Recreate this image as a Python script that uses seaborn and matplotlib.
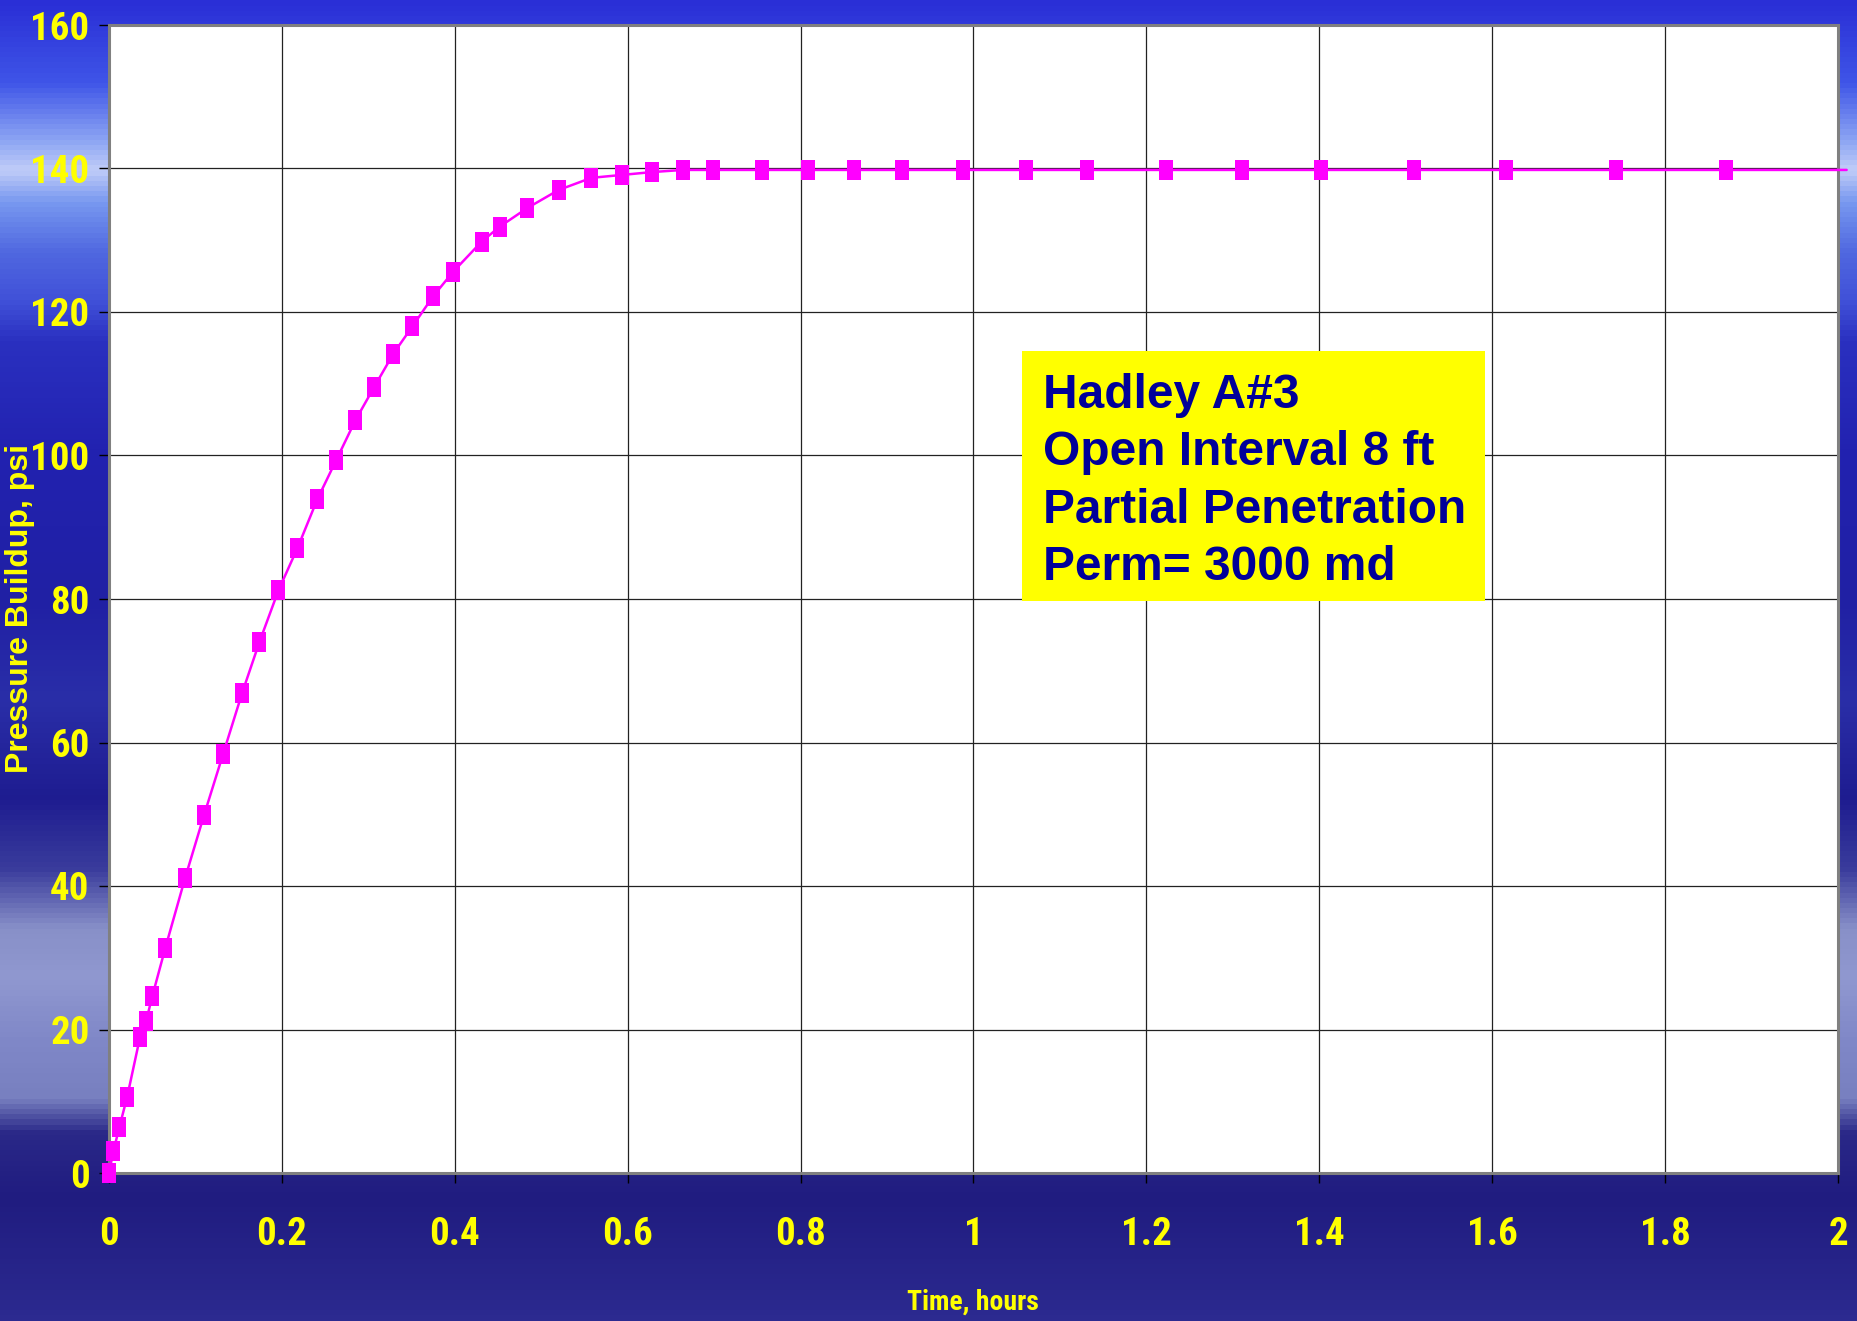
import matplotlib
matplotlib.use('Agg')
import matplotlib.pyplot as plt
import matplotlib.colors as mcolors
from matplotlib.patches import Rectangle
import numpy as np
import pandas as pd
import seaborn as sns

# tempo (h) e pressão (psi)
tempo = [0.0, 0.005, 0.012, 0.021, 0.036, 0.043, 0.050, 0.065, 0.088,
         0.110, 0.132, 0.154, 0.174, 0.196, 0.218, 0.241, 0.263, 0.285,
         0.307, 0.329, 0.351, 0.375, 0.398, 0.431, 0.452, 0.484, 0.520,
         0.558, 0.593, 0.628, 0.664, 0.699, 0.755, 0.808, 0.862, 0.917,
         0.988, 1.061, 1.131, 1.223, 1.311, 1.402, 1.510, 1.616, 1.743,
         1.870, 2.010]
pressao = [0.0, 3.0, 6.4, 10.6, 19.0, 21.2, 24.6, 31.3, 41.1,
           49.9, 58.4, 66.9, 74.0, 81.2, 87.1, 93.9, 99.4, 104.9,
           109.6, 114.2, 118.0, 122.2, 125.6, 129.8, 131.9, 134.5, 137.0,
           138.7, 139.1, 139.5, 139.8, 139.8, 139.8, 139.8, 139.8, 139.8,
           139.8, 139.8, 139.8, 139.8, 139.8, 139.8, 139.8, 139.8, 139.8,
           139.8, 139.8]

xticks = [0, 0.2, 0.4, 0.6, 0.8, 1, 1.2, 1.4, 1.6, 1.8, 2]
xticklabels = ['0', '0.2', '0.4', '0.6', '0.8', '1', '1.2', '1.4', '1.6', '1.8', '2']
yticks = [0, 20, 40, 60, 80, 100, 120, 140, 160]

info = ['Hadley A#3', 'Open Interval 8 ft', 'Partial Penetration', 'Perm= 3000 md']

W, H = 1858, 1321
AMARELO = '#ffff00'
MAGENTA = '#ff00ff'
narrow = ['Roboto Condensed', 'Liberation Sans Narrow', 'Liberation Sans', 'DejaVu Sans']

df = pd.DataFrame({'tempo': tempo, 'pressao': pressao})

sns.set_theme(style='white')
fig = plt.figure(figsize=(W / 100, H / 100), dpi=100)

# fundo degradê azul (paradas de cor)
paradas = [(0, '#2a2fd6'), (80, '#3f55e8'), (140, '#90a8f4'), (168, '#c0ccf8'),
           (200, '#7898f0'), (250, '#5068e0'), (300, '#4050d8'), (340, '#2a30c0'),
           (450, '#2222b0'), (600, '#2020a4'), (700, '#2a2ea8'), (800, '#1e1c90'),
           (870, '#3a3c9c'), (930, '#8890c8'), (980, '#9098d0'), (1040, '#8088c8'),
           (1100, '#7880c0'), (1135, '#2a2888'), (1200, '#201c80'), (1321, '#2c2a90')]
cmap = mcolors.LinearSegmentedColormap.from_list(
    'fundo', [(p / H, c) for p, c in paradas])
bg = fig.add_axes([0, 0, 1, 1], zorder=-1)
bg.imshow(np.linspace(0, 1, H).reshape(-1, 1), cmap=cmap, aspect='auto',
          extent=[0, 1, 0, 1], origin='upper')
bg.axis('off')

L, R, T, B = 109, 1838, 25, 1173
ax = fig.add_axes([L / W, 1 - B / H, (R - L) / W, (B - T) / H])
ax.set_facecolor('white')

sns.lineplot(data=df, x='tempo', y='pressao', ax=ax, color=MAGENTA, lw=1.8,
             marker=[(-0.36, -0.5), (0.36, -0.5), (0.36, 0.5), (-0.36, 0.5), (-0.36, -0.5)],
             markersize=14, markeredgewidth=0, markerfacecolor=MAGENTA,
             markevery=slice(0, len(tempo) - 1), clip_on=False, zorder=4,
             sort=False, estimator=None)

ax.set_xlim(0, 2)
ax.set_ylim(0, 160)
ax.set_xticks(xticks)
ax.set_xticklabels(xticklabels)
ax.set_yticks(yticks)
ax.grid(True, color='#222222', lw=0.9)
ax.set_axisbelow(True)
for s in ax.spines.values():
    s.set_color('#808080')
    s.set_linewidth(2.2)
ax.tick_params(axis='both', direction='out', color='black', width=1, length=7,
               bottom=True, left=True)
ax.tick_params(axis='x', pad=24)
ax.tick_params(axis='y', pad=7)
for lab in ax.get_xticklabels() + ax.get_yticklabels():
    lab.set_family(narrow)
    lab.set_fontweight('bold')
    lab.set_fontsize(28)
    lab.set_color(AMARELO)
ax.set_xlabel('')
ax.set_ylabel('')

fig.text(20 / W, 1 - 608 / H, 'Pressure Buildup, psi', rotation=90, ha='center',
         va='center', color=AMARELO, fontsize=23, fontweight='bold',
         family=['Liberation Sans', 'DejaVu Sans'])
fig.text(973 / W, 1 - 1302 / H, 'Time, hours', ha='center', va='center',
         color=AMARELO, fontsize=20, fontweight='bold', family=narrow)

# caixa amarela com as informações
ax.add_patch(Rectangle((0.528, 0.4983), 0.2678, 0.2178, transform=ax.transAxes,
                       facecolor='#ffff00', edgecolor='none', zorder=6))
bases = [407.7, 465.0, 522.7, 580.0]
for texto, yb in zip(info, bases):
    ax.text((1043 - L) / (R - L), (B - yb) / (B - T), texto, transform=ax.transAxes,
            ha='left', va='baseline', color='#000099', fontsize=34.5, fontweight='bold',
            family=['Liberation Sans', 'DejaVu Sans'], zorder=7)

fig.savefig('out.png', dpi=100)
